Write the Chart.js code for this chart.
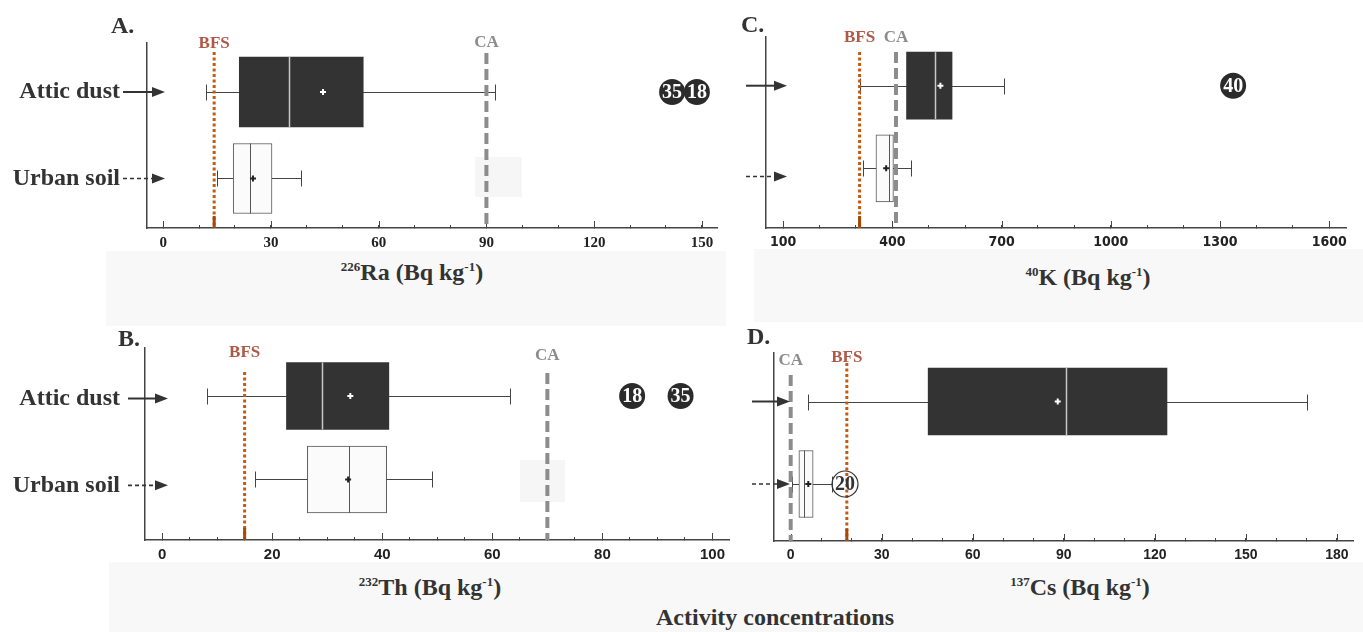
<!DOCTYPE html>
<html>
<head>
<meta charset="utf-8">
<script src="https://cdn.jsdelivr.net/npm/chart.js@4.4.1/dist/chart.umd.min.js"></script>
<style>
  body { margin: 0; width: 1363px; height: 632px; position: relative; background: #fff; overflow: hidden; font-family: "Liberation Serif", serif; }
  .band { position: absolute; background: #f8f8f8; }
  canvas { position: absolute; }
  .t { position: absolute; font-weight: bold; color: #333; white-space: nowrap; }
  .letter { font-size: 24px; line-height: 24px; }
  .axt { font-size: 24px; line-height: 24px; transform: translateX(-50%); }
  .axt sup { font-size: 13px; line-height: 0; vertical-align: 0.7em; }
</style>
</head>
<body>
<div class="band" style="left:106px;top:251px;width:620px;height:75px"></div>
<div class="band" style="left:754px;top:249px;width:609px;height:73px"></div>
<div class="band" style="left:109px;top:562px;width:1254px;height:70px"></div>
<div class="band" style="left:475px;top:157px;width:47px;height:40px;background:#f6f6f6"></div>
<div class="band" style="left:520px;top:460px;width:45px;height:42px;background:#f6f6f6"></div>

<canvas id="chartRa" width="740" height="258" style="left:0;top:0"></canvas>
<canvas id="chartK" width="623" height="258" style="left:740px;top:0"></canvas>
<canvas id="chartTh" width="740" height="260" style="left:0;top:310px"></canvas>
<canvas id="chartCs" width="623" height="261" style="left:740px;top:310px"></canvas>

<div class="t letter" style="left:111px;top:13px">A.</div>
<div class="t letter" style="left:118px;top:326px">B.</div>
<div class="t letter" style="left:741px;top:12px">C.</div>
<div class="t letter" style="left:747px;top:324px">D.</div>

<div class="t axt" style="left:412px;top:260px"><sup>226</sup>Ra (Bq kg<sup>-1</sup>)</div>
<div class="t axt" style="left:1088px;top:265px"><sup>40</sup>K (Bq kg<sup>-1</sup>)</div>
<div class="t axt" style="left:430px;top:575px"><sup>232</sup>Th (Bq kg<sup>-1</sup>)</div>
<div class="t axt" style="left:1080px;top:575px"><sup>137</sup>Cs (Bq kg<sup>-1</sup>)</div>
<div class="t" style="left:775px;top:605px;font-size:24px;line-height:24px;transform:translateX(-50%)">Activity concentrations</div>

<script>
const groups = ["Attic dust", "Urban soil"];
const refNames = ["BFS", "CA"];

// box stats, each row: min, q1, median, q3, max, mean
const raAttic = [12.0, 21.2, 35.1, 55.7, 92.4, 44.5];
const raUrban = [15.0, 19.5, 24.2, 30.3, 38.4, 25.0];
const thAttic = [8.1, 22.6, 29.1, 41.2, 63.2, 34.2];
const thUrban = [16.9, 26.4, 34.0, 40.8, 49.0, 33.8];
const kAttic = [310, 439, 516, 564, 708, 532];
const kUrban = [319, 355, 390, 403, 450, 383];
const csAttic = [5.6, 45.3, 90.8, 124, 170, 88];
const csUrban = [0.3, 2.7, 4.3, 7.4, 13.6, 5.8];

// reference levels: BFS, CA
const raRefs = [14.2, 90];
const thRefs = [15, 70];
const kRefs = [310, 410];
const csRefs = [18.5, 0];

// outliers (sample id, value, group index)
const raOutIds = ["35", "18"];
const raOutVals = [141.7, 148.6];
const raOutGroup = [0, 0];
const thOutIds = ["18", "35"];
const thOutVals = [85.4, 94.2];
const thOutGroup = [0, 0];
const kOutIds = ["40"];
const kOutVals = [1336];
const kOutGroup = [0];
const csOutIds = ["20"];
const csOutVals = [17.9];
const csOutGroup = [1];

// labelled x ticks
const raTicks = [0, 30, 60, 90, 120, 150];
const thTicks = [0, 20, 40, 60, 80, 100];
const kTicks = [100, 400, 700, 1000, 1300, 1600];
const csTicks = [0, 30, 60, 90, 120, 150, 180];

const panels = [
  { canvas: "chartRa", left: 0, padTop: 43, axisLeft: 147, padRight: 23,
    xMin: -4.5, xMax: 154.2, step: 10, yMin: -0.5665, yMax: 1.5723, boxH: 70,
    attic: raAttic, urban: raUrban, refs: raRefs, ticks: raTicks,
    outIds: raOutIds, outVals: raOutVals, outGroup: raOutGroup, outOpen: false,
    showGroups: true, labelPad: 27, arrowX: [-24, 18], arrowY: [0, 1],
    refLabelDy: [1, 0], refLineDy: [9, 10], tickFont: { family: "Liberation Serif", size: 15, weight: "bold" } },
  { canvas: "chartK", left: 740, padTop: 37, axisLeft: 766, padRight: 17,
    xMin: 53, xMax: 1646, step: 100, yMin: -0.5896, yMax: 1.7228, boxH: 67,
    attic: kAttic, urban: kUrban, refs: kRefs, ticks: kTicks,
    outIds: kOutIds, outVals: kOutVals, outGroup: kOutGroup, outOpen: false,
    showGroups: false, labelPad: 0, arrowX: [-20, 21], arrowY: [0, 1.1],
    refLabelDy: [1, 1], refLineDy: [15, 15], tickFont: { family: "'Liberation Sans Narrow', 'DejaVu Sans Condensed', 'Liberation Sans'", size: 14, weight: "bold" } },
  { canvas: "chartTh", left: 0, padTop: 38, axisLeft: 145, padRight: 11,
    xMin: -3.1, xMax: 103, step: 5, yMin: -0.5749, yMax: 1.7246, boxH: 67,
    attic: thAttic, urban: thUrban, refs: thRefs, ticks: thTicks,
    outIds: thOutIds, outVals: thOutVals, outGroup: thOutGroup, outOpen: false,
    showGroups: true, labelPad: 25, arrowX: [-17, 23], arrowY: [0.03, 1.07],
    refLabelDy: [5, 8], refLineDy: [24, 25], tickFont: { family: "Liberation Sans", size: 15, weight: "bold" } },
  { canvas: "chartCs", left: 740, padTop: 43, axisLeft: 774, padRight: 10,
    xMin: -5.5, xMax: 185.3, step: 10, yMin: -0.5879, yMax: 1.6909, boxH: 67,
    attic: csAttic, urban: csUrban, refs: csRefs, ticks: csTicks,
    outIds: csOutIds, outVals: csOutVals, outGroup: csOutGroup, outOpen: true,
    showGroups: false, labelPad: 0, arrowX: [-22, 16], arrowY: [0, 1],
    refLabelDy: [5, 8], refLineDy: [10, 22], tickFont: { family: "Liberation Sans", size: 14, weight: "bold" } }
];

const refStyles = [
  { line: "#c55a11", text: "#b05848", width: 3, dash: [3, 2.5] },
  { line: "#8c8c8c", text: "#8c8c8c", width: 4, dash: [11, 5] }
];

function drawArrow(ctx, x1, x2, y, dashed) {
  ctx.save();
  ctx.strokeStyle = "#333";
  ctx.fillStyle = "#333";
  ctx.lineWidth = dashed ? 1.6 : 2;
  ctx.setLineDash(dashed ? [4, 3] : []);
  ctx.beginPath();
  ctx.moveTo(x1, y);
  ctx.lineTo(x2 - 10, y);
  ctx.stroke();
  ctx.setLineDash([]);
  ctx.beginPath();
  ctx.moveTo(x2, y);
  ctx.lineTo(x2 - 13, y - 5);
  ctx.lineTo(x2 - 13, y + 5);
  ctx.closePath();
  ctx.fill();
  ctx.restore();
}

// whiskers, medians, means, reference lines, outliers and arrows
function boxExtras(p) {
  return {
    id: "boxExtras",
    beforeDatasetsDraw(chart) {
      const { ctx, scales: { x, y } } = chart;
      ctx.save();
      ctx.strokeStyle = "#444";
      ctx.lineWidth = 1;
      [p.attic, p.urban].forEach((s, i) => {
        const py = Math.round(y.getPixelForValue(i)) + 0.5;
        const x0 = Math.round(x.getPixelForValue(s[0])) + 0.5;
        const x4 = Math.round(x.getPixelForValue(s[4])) + 0.5;
        ctx.beginPath();
        ctx.moveTo(x0, py); ctx.lineTo(x4, py);
        ctx.moveTo(x0, py - 8); ctx.lineTo(x0, py + 8);
        ctx.moveTo(x4, py - 8); ctx.lineTo(x4, py + 8);
        ctx.stroke();
      });
      ctx.restore();
    },
    afterDatasetsDraw(chart) {
      const { ctx, chartArea, scales: { x, y } } = chart;
      ctx.save();
      // longer marks on the labelled ticks
      ctx.strokeStyle = "#444";
      ctx.lineWidth = 1;
      ctx.beginPath();
      p.ticks.forEach(v => {
        const tx = Math.round(x.getPixelForValue(v)) + 0.5;
        ctx.moveTo(tx, chartArea.bottom);
        ctx.lineTo(tx, chartArea.bottom - 7);
      });
      ctx.stroke();

      [p.attic, p.urban].forEach((s, i) => {
        const py = y.getPixelForValue(i);
        const half = p.boxH / 2;
        const mx = Math.round(x.getPixelForValue(s[2])) + 0.5;
        ctx.strokeStyle = i === 0 ? "#c8c8c8" : "#555";
        ctx.lineWidth = i === 0 ? 1.5 : 1;
        ctx.beginPath();
        ctx.moveTo(mx, py - half); ctx.lineTo(mx, py + half);
        ctx.stroke();
        const ax = x.getPixelForValue(s[5]);
        ctx.strokeStyle = i === 0 ? "#fff" : "#222";
        ctx.lineWidth = 2;
        ctx.beginPath();
        ctx.moveTo(ax - 3, py); ctx.lineTo(ax + 3, py);
        ctx.moveTo(ax, py - 3); ctx.lineTo(ax, py + 3);
        ctx.stroke();
      });

      p.refs.forEach((v, k) => {
        const st = refStyles[k];
        const px = x.getPixelForValue(v);
        ctx.strokeStyle = st.line;
        ctx.lineWidth = st.width;
        ctx.setLineDash(st.dash);
        ctx.beginPath();
        ctx.moveTo(px, chartArea.top + p.refLineDy[k]);
        ctx.lineTo(px, chartArea.bottom);
        ctx.stroke();
        ctx.setLineDash([]);
        if (k === 0) {
          ctx.strokeStyle = "#a84808";
          ctx.beginPath();
          ctx.moveTo(px, chartArea.bottom - 12);
          ctx.lineTo(px, chartArea.bottom);
          ctx.stroke();
        }
        ctx.fillStyle = st.text;
        ctx.font = "bold 17px 'Liberation Serif'";
        ctx.textAlign = "center";
        ctx.textBaseline = "middle";
        ctx.fillText(refNames[k], px, chartArea.top + p.refLabelDy[k]);
      });

      p.outVals.forEach((v, k) => {
        const cx = x.getPixelForValue(v);
        const cy = y.getPixelForValue(p.outGroup[k]);
        ctx.beginPath();
        ctx.arc(cx, cy, 13, 0, Math.PI * 2);
        if (p.outOpen) {
          ctx.strokeStyle = "#333";
          ctx.lineWidth = 1.2;
          ctx.stroke();
          ctx.fillStyle = "#333";
        } else {
          ctx.fillStyle = "#2b2b2b";
          ctx.fill();
          ctx.fillStyle = "#fff";
        }
        ctx.font = "bold 20px 'Liberation Serif'";
        ctx.textAlign = "center";
        ctx.textBaseline = "middle";
        ctx.fillText(p.outIds[k], cx, cy + 1);
      });
      ctx.restore();

      p.arrowY.forEach((v, i) => {
        drawArrow(ctx, chartArea.left + p.arrowX[0], chartArea.left + p.arrowX[1], y.getPixelForValue(v), i === 1);
      });
    }
  };
}

panels.forEach(p => {
  const ctx = document.getElementById(p.canvas).getContext("2d");
  new Chart(ctx, {
    type: "bar",
    data: {
      datasets: [{
        data: [{ x: [p.attic[1], p.attic[3]], y: 0 }, { x: [p.urban[1], p.urban[3]], y: 1 }],
        backgroundColor: ["#333333", "#fbfbfb"],
        borderColor: ["#333333", "#555555"],
        borderWidth: [0, 1],
        borderSkipped: false,
        barThickness: p.boxH,
        grouped: false
      }]
    },
    options: {
      indexAxis: "y",
      responsive: false,
      animation: false,
      devicePixelRatio: 1,
      layout: { padding: { left: 0, top: p.padTop, right: p.padRight, bottom: 0 } },
      plugins: { legend: { display: false }, tooltip: { enabled: false } },
      scales: {
        x: {
          type: "linear",
          min: p.xMin,
          max: p.xMax,
          beginAtZero: false,
          border: { color: "#444", width: 1.5 },
          grid: { drawOnChartArea: false, drawTicks: true, tickLength: -3, color: "#444", tickWidth: 1, offset: false },
          ticks: {
            autoSkip: false,
            maxRotation: 0,
            padding: 9,
            color: "#222",
            font: p.tickFont,
            callback: v => (p.ticks.includes(v) ? String(v) : "")
          },
          // one tick every p.step units, labels only on the listed values
          afterBuildTicks: s => {
            const list = [];
            for (let v = Math.ceil(s.min / p.step) * p.step; v <= s.max; v += p.step) list.push({ value: v });
            s.ticks = list;
          },
          afterFit: s => { s.height = 30; s.paddingLeft = 0; s.paddingRight = 0; }
        },
        y: {
          type: "linear",
          reverse: true,
          min: p.yMin,
          max: p.yMax,
          offset: false,
          border: { color: "#444", width: 1.5 },
          grid: { display: false, drawTicks: false },
          ticks: {
            display: p.showGroups,
            padding: p.labelPad,
            color: "#333",
            font: { family: "Liberation Serif", size: 24, weight: "bold" },
            callback: (v, i) => groups[i]
          },
          afterBuildTicks: s => { s.ticks = p.arrowY.map(v => ({ value: v })); },
          afterFit: s => { s.width = p.axisLeft - p.left; s.paddingTop = 0; s.paddingBottom = 0; }
        }
      }
    },
    plugins: [boxExtras(p)]
  });
});
</script>
</body>
</html>
